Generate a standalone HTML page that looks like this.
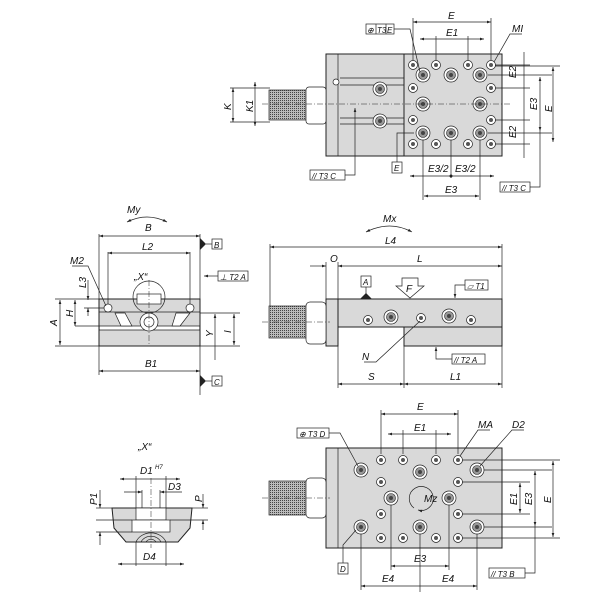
<!DOCTYPE html>
<html><head><meta charset="utf-8"><style>
html,body{margin:0;padding:0;background:#fff}
svg{display:block}
text{font-family:"Liberation Sans",sans-serif;font-style:italic;font-size:10px;fill:#111}
.b{fill:#d9d9d9;stroke:#222;stroke-width:1}
.l{stroke:#222;stroke-width:0.7;fill:none}
.k{fill:#666;stroke:#222;stroke-width:0.7}
.w{fill:#fff;stroke:#222;stroke-width:0.7}
.c{stroke:#222;stroke-width:0.5;fill:none;stroke-dasharray:6 2 1 2}
</style></head><body>
<svg width="600" height="600" viewBox="0 0 600 600" xmlns="http://www.w3.org/2000/svg">
<defs>
<pattern id="kn" width="2" height="2" patternUnits="userSpaceOnUse"><rect width="2" height="2" fill="#bbb"/><rect width="1" height="1" fill="#444"/></pattern>
<marker id="a" viewBox="0 0 6 6" refX="6" refY="3" markerWidth="6" markerHeight="6" orient="auto-start-reverse"><path d="M0,1 L6,3 L0,5z" fill="#222"/></marker>
<g id="sh"><circle r="4.5" class="w"/><circle r="2" fill="#555"/></g>
<g id="bh"><circle r="7" class="w"/><circle r="4.5" fill="#999" stroke="#222" stroke-width=".6"/><circle r="2" fill="#444"/></g>
</defs>

<!-- ===== TOP VIEW ===== -->
<rect x="326" y="54" width="176" height="102" class="b" fill="#e2e2e2"/>
<line x1="338" y1="54" x2="338" y2="156" class="l"/>
<rect x="404" y="54" width="98" height="102" class="b"/>
<line x1="340" y1="78" x2="404" y2="78" class="l"/><line x1="340" y1="85" x2="404" y2="85" class="l"/>
<line x1="340" y1="118" x2="404" y2="118" class="l"/><line x1="340" y1="124" x2="404" y2="124" class="l"/>
<rect x="269" y="90" width="37" height="30" fill="url(#kn)" stroke="#222" stroke-width=".7"/>
<rect x="306" y="87" width="20" height="37" rx="3" class="w" fill="#ddd"/>
<use href="#bh" x="380" y="89"/><use href="#bh" x="380" y="121"/>
<circle cx="336" cy="82" r="3" class="w"/>
<g>
<use href="#sh" x="413" y="65"/><use href="#sh" x="436" y="65"/><use href="#sh" x="468" y="65"/><use href="#sh" x="491" y="65"/>
<use href="#sh" x="413" y="144"/><use href="#sh" x="436" y="144"/><use href="#sh" x="468" y="144"/><use href="#sh" x="491" y="144"/>
<use href="#sh" x="413" y="88"/><use href="#sh" x="413" y="120"/><use href="#sh" x="491" y="88"/><use href="#sh" x="491" y="120"/>
<use href="#bh" x="423" y="75"/><use href="#bh" x="451" y="75"/><use href="#bh" x="480" y="75"/>
<use href="#bh" x="423" y="133"/><use href="#bh" x="451" y="133"/><use href="#bh" x="480" y="133"/>
<use href="#bh" x="423" y="104"/><use href="#bh" x="480" y="104"/>
</g>
<line x1="262" y1="104" x2="510" y2="104" class="c"/>
<line x1="413" y1="60" x2="413" y2="18" class="l"/><line x1="491" y1="60" x2="491" y2="18" class="l"/>
<line x1="413" y1="22" x2="491" y2="22" class="l" marker-start="url(#a)" marker-end="url(#a)"/><text x="448" y="19">E</text>
<line x1="436" y1="60" x2="436" y2="36" class="l"/><line x1="468" y1="60" x2="468" y2="36" class="l"/>
<line x1="420" y1="39" x2="484" y2="39" class="l" marker-start="url(#a)" marker-end="url(#a)"/><text x="446" y="36">E1</text>
<rect x="366" y="24" width="28" height="10" class="w"/><line x1="376" y1="24" x2="376" y2="34" class="l"/><line x1="386" y1="24" x2="386" y2="34" class="l"/>
<text x="367" y="33" style="font-size:8px">⊕</text><text x="377" y="33" style="font-size:8px">T3</text><text x="387" y="33" style="font-size:8px">E</text>
<polyline points="394,29 410,29 420,72" class="l"/>
<text x="512" y="32">MI</text><polyline points="522,34 510,34 494,62" class="l"/>
<line x1="524" y1="52" x2="524" y2="158" class="l"/>
<text x="516" y="78" transform="rotate(-90 516 78)">E2</text><text x="516" y="138" transform="rotate(-90 516 138)">E2</text>
<line x1="495" y1="65" x2="530" y2="65" class="l"/><line x1="495" y1="88" x2="530" y2="88" class="l"/>
<line x1="495" y1="120" x2="530" y2="120" class="l"/><line x1="495" y1="144" x2="530" y2="144" class="l"/>
<line x1="488" y1="75" x2="552" y2="75" class="l"/><line x1="488" y1="133" x2="552" y2="133" class="l"/>
<line x1="495" y1="66" x2="560" y2="66" class="l"/>
<line x1="540" y1="77" x2="540" y2="131" class="l" marker-start="url(#a)" marker-end="url(#a)"/><text x="537" y="110" transform="rotate(-90 537 110)">E3</text>
<line x1="553" y1="67" x2="553" y2="142" class="l" marker-start="url(#a)" marker-end="url(#a)"/><text x="552" y="112" transform="rotate(-90 552 112)">E</text>
<polyline points="540,131 540,187 530,187" class="l"/>
<rect x="500" y="182" width="30" height="10" class="w"/><text x="502" y="191" style="font-size:8px">// T3 C</text>
<line x1="423" y1="140" x2="423" y2="200" class="l"/><line x1="480" y1="140" x2="480" y2="200" class="l"/><line x1="451" y1="140" x2="451" y2="178" class="l"/>
<line x1="410" y1="176" x2="494" y2="176" class="l" marker-start="url(#a)" marker-end="url(#a)"/><circle cx="451" cy="176" r="1.5" fill="#222"/>
<text x="428" y="172">E3/2</text><text x="455" y="172">E3/2</text>
<line x1="424" y1="196" x2="479" y2="196" class="l" marker-start="url(#a)" marker-end="url(#a)"/><text x="445" y="193">E3</text>
<rect x="392" y="162" width="10" height="11" class="w"/><text x="394" y="171" style="font-size:8px">E</text><polyline points="397,162 397,133 414,133" class="l"/>
<rect x="310" y="170" width="35" height="10" class="w"/><text x="312" y="179" style="font-size:8px">// T3 C</text><polyline points="345,175 355,175 355,108" class="l" marker-end="url(#a)"/>
<line x1="233" y1="88" x2="233" y2="122" class="l" marker-start="url(#a)" marker-end="url(#a)"/><text x="231" y="110" transform="rotate(-90 231 110)">K</text>
<line x1="255" y1="82" x2="255" y2="126" class="l" marker-start="url(#a)" marker-end="url(#a)"/><text x="253" y="112" transform="rotate(-90 253 112)">K1</text>
<line x1="230" y1="88" x2="270" y2="88" class="l"/><line x1="230" y1="122" x2="270" y2="122" class="l"/>

<!-- ===== LEFT SIDE VIEW ===== -->
<rect x="99" y="299" width="101" height="47" class="b"/>
<line x1="99" y1="312" x2="200" y2="312" class="l"/>
<rect x="100" y="326" width="99" height="4" fill="#fff"/>
<line x1="75" y1="326" x2="200" y2="326" class="l"/>
<line x1="99" y1="330" x2="200" y2="330" class="l"/>
<polygon points="115,313 125,313 132,326 121,326" fill="#fff" stroke="#222" stroke-width=".7"/>
<polygon points="176,313 190,313 180,326 172,326" fill="#fff" stroke="#222" stroke-width=".7"/>
<circle cx="149" cy="297" r="16" class="l"/>
<rect x="137" y="294" width="24" height="10" class="w"/>
<circle cx="149" cy="322" r="9" class="w"/><circle cx="149" cy="322" r="5" class="w"/>
<circle cx="108" cy="308" r="4" class="w"/><circle cx="190" cy="308" r="4" class="w"/>
<line x1="149" y1="280" x2="149" y2="346" class="c"/>
<line x1="99" y1="234" x2="99" y2="375" class="l"/><line x1="200" y1="234" x2="200" y2="395" class="l"/>
<line x1="99" y1="236" x2="200" y2="236" class="l" marker-start="url(#a)" marker-end="url(#a)"/><text x="145" y="231">B</text>
<line x1="108" y1="252" x2="108" y2="304" class="l"/><line x1="190" y1="252" x2="190" y2="304" class="l"/>
<line x1="108" y1="253" x2="190" y2="253" class="l" marker-start="url(#a)" marker-end="url(#a)"/><text x="142" y="250">L2</text>
<text x="134" y="280">„X“</text>
<line x1="99" y1="371" x2="200" y2="371" class="l" marker-start="url(#a)" marker-end="url(#a)"/><text x="145" y="367">B1</text>
<text x="127" y="213">My</text><path d="M127,222 Q147,212 167,222" class="l" marker-start="url(#a)" marker-end="url(#a)"/>
<text x="70" y="264">M2</text><polyline points="72,266 88,266 106,306" class="l"/>
<line x1="55" y1="299" x2="99" y2="299" class="l"/><line x1="55" y1="346" x2="99" y2="346" class="l"/>
<line x1="60" y1="300" x2="60" y2="345" class="l" marker-start="url(#a)" marker-end="url(#a)"/><text x="57" y="326" transform="rotate(-90 57 326)">A</text>
<line x1="75" y1="300" x2="75" y2="326" class="l" marker-start="url(#a)" marker-end="url(#a)"/><text x="73" y="317" transform="rotate(-90 73 317)">H</text>
<line x1="88" y1="280" x2="88" y2="300" class="l" marker-end="url(#a)"/><line x1="88" y1="316" x2="88" y2="308" class="l" marker-end="url(#a)"/>
<line x1="84" y1="308" x2="104" y2="308" class="l"/><text x="86" y="288" transform="rotate(-90 86 288)">L3</text>
<line x1="200" y1="313" x2="240" y2="313" class="l"/><line x1="200" y1="346" x2="240" y2="346" class="l"/>
<line x1="215" y1="314" x2="215" y2="360" class="l" marker-start="url(#a)"/><text x="213" y="337" transform="rotate(-90 213 337)">Y</text>
<line x1="234" y1="314" x2="234" y2="345" class="l" marker-start="url(#a)" marker-end="url(#a)"/><text x="231" y="333" transform="rotate(-90 231 333)">I</text>
<polygon points="200,238 206,244 200,250" fill="#222"/><line x1="206" y1="244" x2="212" y2="244" class="l"/>
<rect x="212" y="239" width="10" height="10" class="w"/><text x="214" y="248" style="font-size:8px">B</text>
<polygon points="200,375 206,381 200,387" fill="#222"/><line x1="206" y1="381" x2="212" y2="381" class="l"/>
<rect x="212" y="376" width="10" height="10" class="w"/><text x="214" y="385" style="font-size:8px">C</text>
<line x1="218" y1="276" x2="204" y2="276" class="l" marker-end="url(#a)"/>
<rect x="218" y="271" width="30" height="10" class="w"/><text x="220" y="280" style="font-size:8px">⊥ T2 A</text>

<!-- ===== FRONT VIEW ===== -->
<rect x="338" y="299" width="164" height="28" class="b"/>
<rect x="404" y="327" width="98" height="19" class="b"/>
<rect x="326" y="299" width="12" height="47" class="b"/>
<rect x="269" y="306" width="37" height="32" fill="url(#kn)" stroke="#222" stroke-width=".7"/>
<rect x="306" y="302" width="20" height="42" rx="4" class="w" fill="#ddd"/>
<line x1="262" y1="322" x2="330" y2="322" class="c"/>
<use href="#sh" x="368" y="320"/><use href="#bh" x="391" y="317"/><use href="#sh" x="421" y="318"/><use href="#bh" x="449" y="316"/><use href="#sh" x="471" y="320"/>
<line x1="270" y1="244" x2="270" y2="306" class="l"/><line x1="502" y1="244" x2="502" y2="388" class="l"/>
<line x1="270" y1="247" x2="502" y2="247" class="l" marker-start="url(#a)" marker-end="url(#a)"/><text x="385" y="244">L4</text>
<text x="383" y="222">Mx</text><path d="M366,232 Q390,220 412,232" class="l" marker-start="url(#a)" marker-end="url(#a)"/>
<line x1="326" y1="262" x2="326" y2="299" class="l"/><line x1="338" y1="262" x2="338" y2="388" class="l"/>
<line x1="310" y1="266" x2="326" y2="266" class="l" marker-end="url(#a)"/><line x1="338" y1="266" x2="502" y2="266" class="l" marker-start="url(#a)" marker-end="url(#a)"/>
<text x="330" y="262">O</text><text x="417" y="262">L</text>
<rect x="361" y="276" width="10" height="11" class="w"/><text x="363" y="285" style="font-size:8px">A</text>
<line x1="366" y1="287" x2="366" y2="295" class="l"/><polygon points="360,299 366,293 372,299" fill="#222"/>
<polygon points="402,278 418,278 418,286 424,286 410,298 396,286 402,286" class="w"/>
<text x="406" y="292">F</text>
<rect x="465" y="280" width="23" height="10" class="w"/><text x="467" y="289" style="font-size:8px">▱ T1</text>
<polyline points="465,285 455,285 455,298" class="l" marker-end="url(#a)"/>
<text x="362" y="360">N</text><polyline points="364,362 376,362 420,321" class="l"/>
<rect x="452" y="354" width="33" height="10" class="w"/><text x="454" y="363" style="font-size:8px">// T2 A</text>
<polyline points="452,359 436,359 436,347" class="l" marker-end="url(#a)"/>
<line x1="404" y1="346" x2="404" y2="388" class="l"/>
<line x1="338" y1="384" x2="404" y2="384" class="l" marker-start="url(#a)" marker-end="url(#a)"/><text x="368" y="380">S</text>
<line x1="404" y1="384" x2="502" y2="384" class="l" marker-start="url(#a)" marker-end="url(#a)"/><text x="450" y="380">L1</text>

<!-- ===== DETAIL X ===== -->
<text x="138" y="450">„X“</text>
<path d="M112,508 L192,508 L190,528 L178,542 L126,542 L114,528 Z" class="b"/>
<rect x="136" y="508" width="30" height="12" fill="#fff" stroke="#222" stroke-width=".7"/>
<rect x="132" y="520" width="38" height="12" fill="#fff" stroke="#222" stroke-width=".7"/>
<path d="M136,542 A16,14 0 0 1 166,542" class="l"/><path d="M141,542 A11,10 0 0 1 161,542" class="l"/><path d="M146,542 A6,6 0 0 1 156,542" class="l"/>
<line x1="151" y1="478" x2="151" y2="548" class="c"/>
<line x1="136" y1="476" x2="136" y2="508" class="l"/><line x1="166" y1="476" x2="166" y2="508" class="l"/>
<line x1="120" y1="479" x2="180" y2="479" class="l" marker-start="url(#a)" marker-end="url(#a)"/><text x="140" y="474">D1</text><text x="155" y="469" style="font-size:6px">H7</text>
<line x1="142" y1="490" x2="142" y2="508" class="l"/><line x1="160" y1="490" x2="160" y2="508" class="l"/>
<line x1="124" y1="492" x2="142" y2="492" class="l" marker-end="url(#a)"/><line x1="182" y1="492" x2="160" y2="492" class="l" marker-end="url(#a)"/><text x="168" y="490">D3</text>
<line x1="136" y1="542" x2="136" y2="566" class="l"/><line x1="166" y1="542" x2="166" y2="566" class="l"/>
<line x1="118" y1="564" x2="184" y2="564" class="l" marker-start="url(#a)" marker-end="url(#a)"/><text x="143" y="560">D4</text>
<line x1="96" y1="508" x2="112" y2="508" class="l"/><line x1="96" y1="520" x2="132" y2="520" class="l"/><line x1="96" y1="532" x2="132" y2="532" class="l"/>
<line x1="100" y1="490" x2="100" y2="508" class="l" marker-end="url(#a)"/><line x1="100" y1="545" x2="100" y2="532" class="l" marker-end="url(#a)"/>
<text x="97" y="505" transform="rotate(-90 97 505)">P1</text>
<line x1="192" y1="508" x2="208" y2="508" class="l"/><line x1="170" y1="520" x2="208" y2="520" class="l"/>
<line x1="203" y1="494" x2="203" y2="508" class="l" marker-end="url(#a)"/><line x1="203" y1="530" x2="203" y2="520" class="l" marker-end="url(#a)"/>
<text x="202" y="502" transform="rotate(-90 202 502)">P</text>

<!-- ===== BOTTOM VIEW ===== -->
<rect x="326" y="448" width="176" height="100" class="b"/>
<line x1="338" y1="448" x2="338" y2="548" class="l"/>
<rect x="269" y="481" width="37" height="34" fill="url(#kn)" stroke="#222" stroke-width=".7"/>
<rect x="306" y="478" width="20" height="40" rx="4" class="w" fill="#ddd"/>
<line x1="262" y1="498" x2="330" y2="498" class="c"/>
<use href="#sh" x="381" y="460"/><use href="#sh" x="403" y="460"/><use href="#sh" x="436" y="460"/><use href="#sh" x="458" y="460"/>
<use href="#sh" x="381" y="538"/><use href="#sh" x="403" y="538"/><use href="#sh" x="436" y="538"/><use href="#sh" x="458" y="538"/>
<use href="#sh" x="381" y="482"/><use href="#sh" x="381" y="514"/><use href="#sh" x="458" y="482"/><use href="#sh" x="458" y="514"/>
<use href="#bh" x="361" y="470"/><use href="#bh" x="477" y="470"/><use href="#bh" x="361" y="527"/><use href="#bh" x="477" y="527"/>
<use href="#bh" x="420" y="472"/><use href="#bh" x="420" y="527"/><use href="#bh" x="391" y="498"/><use href="#bh" x="449" y="498"/>
<path d="M414,508 A12,12 0 1 1 418,510" class="l" marker-end="url(#a)"/><text x="424" y="502">Mz</text>
<line x1="381" y1="454" x2="381" y2="410" class="l"/><line x1="458" y1="454" x2="458" y2="410" class="l"/>
<line x1="381" y1="414" x2="458" y2="414" class="l" marker-start="url(#a)" marker-end="url(#a)"/><text x="417" y="410">E</text>
<line x1="403" y1="454" x2="403" y2="430" class="l"/><line x1="436" y1="454" x2="436" y2="430" class="l"/>
<line x1="388" y1="434" x2="451" y2="434" class="l" marker-start="url(#a)" marker-end="url(#a)"/><text x="414" y="431">E1</text>
<text x="478" y="428">MA</text><polyline points="490,430 478,430 460,456" class="l"/>
<text x="512" y="428">D2</text><polyline points="524,430 512,430 480,466" class="l"/>
<rect x="297" y="428" width="32" height="10" class="w"/><text x="299" y="437" style="font-size:8px">⊕ T3 D</text>
<polyline points="329,433 340,433 358,466" class="l"/>
<rect x="338" y="563" width="10" height="11" class="w"/><text x="340" y="572" style="font-size:8px">D</text>
<polyline points="343,563 343,545 356,530" class="l"/>
<line x1="391" y1="505" x2="391" y2="570" class="l"/><line x1="449" y1="505" x2="449" y2="570" class="l"/>
<line x1="391" y1="566" x2="449" y2="566" class="l" marker-start="url(#a)" marker-end="url(#a)"/><text x="414" y="562">E3</text>
<line x1="361" y1="534" x2="361" y2="590" class="l"/><line x1="477" y1="534" x2="477" y2="590" class="l"/><line x1="420" y1="534" x2="420" y2="592" class="l"/>
<line x1="361" y1="586" x2="477" y2="586" class="l" marker-start="url(#a)" marker-end="url(#a)"/>
<text x="382" y="582">E4</text><text x="442" y="582">E4</text>
<line x1="462" y1="482" x2="530" y2="482" class="l"/><line x1="462" y1="514" x2="530" y2="514" class="l"/>
<line x1="484" y1="470" x2="552" y2="470" class="l"/><line x1="484" y1="527" x2="552" y2="527" class="l"/>
<line x1="462" y1="460" x2="560" y2="460" class="l"/><line x1="462" y1="538" x2="560" y2="538" class="l"/>
<line x1="520" y1="483" x2="520" y2="513" class="l" marker-start="url(#a)" marker-end="url(#a)"/><text x="517" y="505" transform="rotate(-90 517 505)">E1</text>
<line x1="535" y1="471" x2="535" y2="526" class="l" marker-start="url(#a)" marker-end="url(#a)"/><text x="532" y="505" transform="rotate(-90 532 505)">E3</text>
<line x1="553" y1="461" x2="553" y2="537" class="l" marker-start="url(#a)" marker-end="url(#a)"/><text x="551" y="503" transform="rotate(-90 551 503)">E</text>
<polyline points="535,526 535,573 525,573" class="l"/>
<rect x="489" y="568" width="36" height="10" class="w"/><text x="491" y="577" style="font-size:8px">// T3 B</text>
</svg>
</body></html>
